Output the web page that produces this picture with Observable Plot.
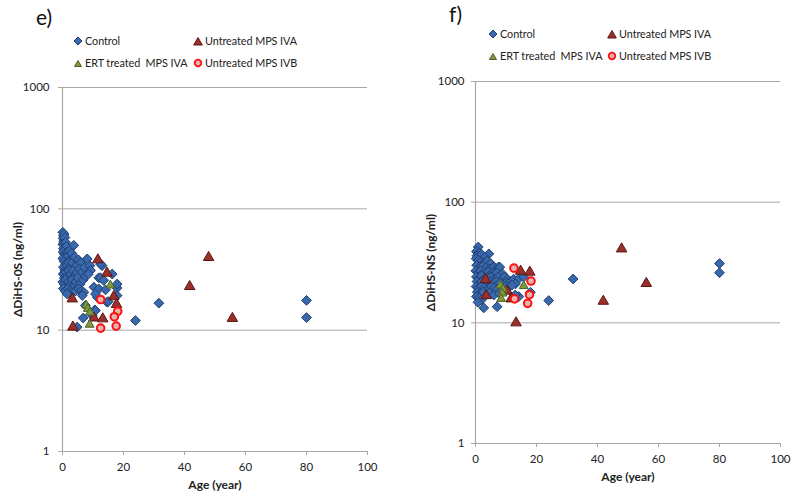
<!DOCTYPE html>
<html>
<head>
<meta charset="utf-8">
<script src="https://cdn.jsdelivr.net/npm/d3@7"></script>
<script src="https://cdn.jsdelivr.net/npm/@observablehq/plot@0.6"></script>
<style>
  body { margin: 0; background: #fff; }
  #wrap { position: relative; width: 800px; height: 502px; display: flex; font-family: Lato, "Open Sans", sans-serif; }
  .lbl { position: absolute; font-size: 21px; color: #111; }
  .leg { position: absolute; font-size: 10.8px; letter-spacing: -0.05px; color: #222; display: flex; align-items: center; white-space: pre; }
  .leg svg { margin-right: 2px; }
</style>
</head>
<body>
<div id="wrap"></div>
<script>
// ---------- data: [age (year), value (ng/ml)] ----------
const xTicks = [0, 20, 40, 60, 80, 100];
const yTicks = [1, 10, 100, 1000];
const seriesNames = ["Control", "Untreated MPS IVA", "ERT treated  MPS IVA", "Untreated MPS IVB"];

// panel e) ΔDiHS-0S
const controlE = [
  [0.1,64],[0.3,60],[0.2,57],[0.5,62],[0.4,54],[0.8,58],[0.1,51],[0.6,50],[1.0,53],[0.3,47],
  [0.9,46],[1.3,49],[0.2,44],[0.7,42],[1.5,44],[1.2,40],[0.1,39],[0.5,37],[1.8,41],[2.2,45],
  [2.6,38],[3.7,50],[3.0,43],[1.0,35],[0.3,33],[0.8,31],[1.5,34],[2.0,36],[2.5,33],[3.2,36],
  [4.0,40],[4.5,34],[5.2,38],[6.0,36],[0.2,29],[0.6,27],[1.1,30],[1.6,28],[2.1,31],[2.8,29],
  [3.4,31],[4.1,28],[4.8,30],[5.5,32],[6.5,30],[7.2,33],[8.1,38.7],[9.0,34],[9.2,31],[0.1,25],
  [0.5,24],[1.0,26],[1.4,23],[2.0,25],[2.6,24],[3.2,26],[3.8,23],[4.4,25],[5.0,27],[5.8,24],
  [6.8,26],[7.5,28],[8.5,29],[0.3,22],[0.9,21],[1.8,22],[2.4,21],[3.0,20.5],[4.2,21],[5.3,22],
  [6.2,21],[7.0,20.5],[6.5,19.3],[1.5,19.9],[10.3,22.6],[11.4,18.7],[9.7,13.2],[11.9,27],
  [13,34],[12.5,35],[12.5,27],[13.5,25.7],[16.3,29],[17.9,22.3],[17.9,24],[11.9,21.9],[14.1,21.5],
  [10.8,19.9],[17.9,19.3],[14.6,17.0],[15,17.2],[31.6,16.7],[7.5,16],[10.6,14.7],[10.8,14.5],
  [6.8,12.6],[23.9,12.0],[4.8,10.6],[80,17.6],[80,12.7]
];
const ivaE = [[11.6,38],[14.6,29.5],[16.8,18.9],[3.2,18.1],[17.7,16.3],[10.3,12.6],[13.2,12.4],[3.4,10.6],[41.7,22.9],[47.9,39.7],[55.7,12.5]];
const ertE = [[7.8,16],[8.3,15],[9,14],[8.9,11.1],[15.7,23.4]];
const ivbE = [[12.5,17.9],[18.1,14.3],[17,12.9],[12.5,10.4],[17.6,10.8]];

// panel f) ΔDiHS-NS
const controlF = [
  [0.9,42.5],[0.3,39],[1.2,38],[0.5,36],[2,37],[4.4,37.3],[3,35],[0.2,34],[1,33],[1.8,32],
  [2.8,31.5],[3.8,32.5],[5,31],[0.4,30],[1.4,29],[2.4,29.5],[3.5,28.5],[4.6,28],[6,29],[7.5,29],
  [8,28.9],[0.1,27],[0.8,26],[1.7,27],[2.6,26],[3.4,25.5],[4.2,26.5],[5.5,26],[6,25.5],[7,26],
  [8.8,25.5],[0.3,24],[1.2,23.5],[2,24.5],[2.8,23],[4,23.5],[5,24],[6.5,23],[7.5,24],[9.5,24],
  [10.5,23],[0.5,22],[1.5,21.5],[2.2,22],[3.9,21],[4.8,22],[5.8,21],[6.8,22],[8,21.5],[10,21.5],
  [11.5,22],[12.5,23],[14.2,23.2],[15.8,24],[13.1,21],[0.2,20],[1,19.5],[2,20],[3,19.5],[4,19],
  [5.2,20],[6.2,19.5],[7.2,19],[9.8,20],[10.9,19.8],[12,20.5],[0.6,18],[1.6,17.5],[2.5,18],[4.5,17.8],
  [6,17],[7.8,17.5],[0.3,16.5],[1.2,16],[2,15.5],[0.8,14.8],[14.2,16.5],[18,17.9],[13,17],[2.7,13.3],
  [7.1,13.6],[24,15.3],[32,23.1],[80,31],[80,26]
];
const ivaF = [[14.8,26.8],[17.8,26.3],[3.3,22.8],[10.4,18.3],[3.5,16.8],[11.7,15.8],[13.3,10],[41.9,15.1],[47.9,41],[56,21.2]];
const ertF = [[8.2,20.4],[9,19],[8.8,17.5],[8.4,15.8],[15.8,20.2]];
const ivbF = [[12.6,28.4],[18.2,22.2],[17.7,17.1],[12.8,15.8],[17.1,14.5]];

// ---------- styles ----------
const C = {
  control: {fill: "#3a68ad", stroke: "#1f3f70"},
  iva: {fill: "#9a302c", stroke: "#5a1614"},
  ert: {fill: "#7f9a3e", stroke: "#4f6228"},
  ivb: {fill: "#e8b2b0", stroke: "#ff1010"}
};
const diamond = {draw(ctx, size) { const s = Math.sqrt(size / 2); ctx.moveTo(0, -s); ctx.lineTo(s, 0); ctx.lineTo(0, s); ctx.lineTo(-s, 0); ctx.closePath(); }};

function panel(p) {
  const font = "Lato, 'Open Sans', sans-serif";
  return Plot.plot({
    width: 400, height: 502,
    marginLeft: p.ml, marginRight: p.mr, marginTop: p.mt, marginBottom: p.mb,
    x: {domain: [0, 100]},
    y: {type: "log", domain: [1, 1000]},
    style: {fontFamily: font, fontSize: "11px", color: "#222", background: "#fff"},
    marks: [
      Plot.ruleY([10, 100, 1000], {stroke: "#a8a8a8", strokeWidth: 1}),
      Plot.ruleY([1], {stroke: "#a8a8a8", strokeWidth: 1.2}),
      Plot.ruleX([0], {stroke: "#a8a8a8", strokeWidth: 1.2}),
      Plot.axisX({ticks: xTicks, tickSize: 4, tickPadding: p.xpad, stroke: "#a8a8a8", fill: "#222", label: null, fontSize: 11.5}),
      Plot.axisY({ticks: yTicks, tickSize: 4, tickPadding: p.ypad, tickFormat: d => String(d), stroke: "#a8a8a8", fill: "#222", label: null, fontSize: 11.5}),
      Plot.text(["Age (year)"], {frameAnchor: "bottom", dy: 37, fontWeight: "bold", fontSize: 12, fill: "#222"}),
      Plot.text([p.ylabel], {frameAnchor: "left", textAnchor: "middle", rotate: -90, dx: -44, fontWeight: "bold", fontSize: 12, fill: "#222"}),
      Plot.dot(p.control, {x: d => d[0], y: d => d[1], symbol: diamond, r: 3.9, fill: C.control.fill, stroke: C.control.stroke, strokeWidth: 1}),
      Plot.dot(p.iva, {x: d => d[0], y: d => d[1], symbol: "triangle", r: 3.9, fill: C.iva.fill, stroke: C.iva.stroke, strokeWidth: 1}),
      Plot.dot(p.ert, {x: d => d[0], y: d => d[1], symbol: "triangle", r: 3.3, fill: C.ert.fill, stroke: C.ert.stroke, strokeWidth: 1}),
      Plot.dot(p.ivb, {x: d => d[0], y: d => d[1], symbol: "circle", r: 3.8, fill: C.ivb.fill, stroke: C.ivb.stroke, strokeWidth: 2})
    ]
  });
}

const wrap = document.getElementById("wrap");
wrap.appendChild(panel({ml: 62, mr: 33, mt: 87, mb: 51, xpad: 7, ypad: 9, ylabel: "ΔDiHS-0S (ng/ml)", control: controlE, iva: ivaE, ert: ertE, ivb: ivbE}));
wrap.appendChild(panel({ml: 75, mr: 20, mt: 81, mb: 59, xpad: 7, ypad: 7, ylabel: "ΔDiHS-NS (ng/ml)", control: controlF, iva: ivaF, ert: ertF, ivb: ivbF}));

// ---------- panel letters & legends ----------
function addText(txt, x, y) {
  const d = document.createElement("div");
  d.className = "lbl"; d.textContent = txt;
  d.style.left = x + "px"; d.style.top = y + "px";
  wrap.appendChild(d);
}
function sym(kind) {
  const s = {
    control: `<polygon points="5,1 9,5 5,9 1,5" fill="${C.control.fill}" stroke="${C.control.stroke}"/>`,
    iva: `<polygon points="5,1.5 9.3,9 0.7,9" fill="${C.iva.fill}" stroke="${C.iva.stroke}"/>`,
    ert: `<polygon points="5,2.5 8.5,8.5 1.5,8.5" fill="${C.ert.fill}" stroke="${C.ert.stroke}"/>`,
    ivb: `<circle cx="5" cy="5" r="3.3" fill="${C.ivb.fill}" stroke="${C.ivb.stroke}" stroke-width="1.8"/>`
  }[kind];
  return `<svg width="10" height="10" viewBox="0 0 10 10">${s}</svg>`;
}
function addLegend(kind, name, x, y) {
  const d = document.createElement("div");
  d.className = "leg";
  d.innerHTML = sym(kind) + `<span>${name}</span>`;
  d.style.left = x + "px"; d.style.top = (y - 8) + "px";
  wrap.appendChild(d);
}
addText("e)", 36, 4);
addLegend("control", seriesNames[0], 73, 42);
addLegend("iva", seriesNames[1], 193, 42);
addLegend("ert", seriesNames[2], 73, 64);
addLegend("ivb", seriesNames[3], 193, 64);

addText("f)", 449, 1);
addLegend("control", seriesNames[0], 488, 35);
addLegend("iva", seriesNames[1], 607, 35);
addLegend("ert", seriesNames[2], 488, 57);
addLegend("ivb", seriesNames[3], 607, 57);
</script>
</body>
</html>
